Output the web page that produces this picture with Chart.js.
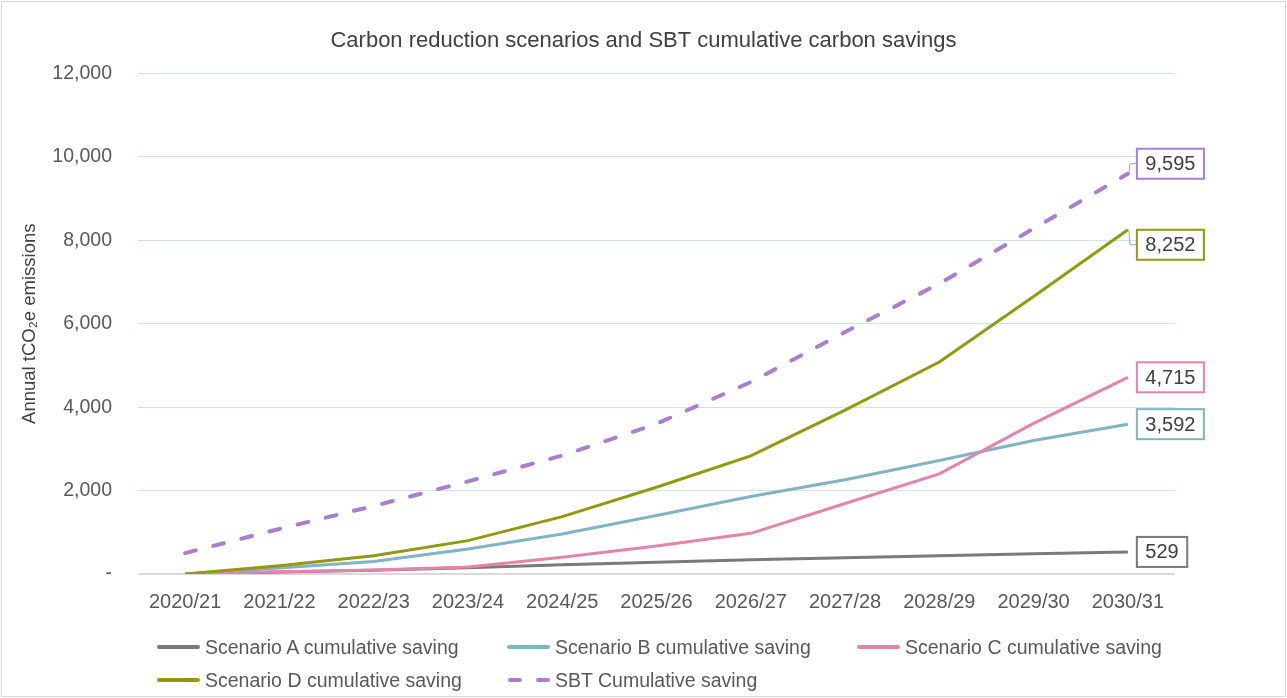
<!DOCTYPE html>
<html>
<head>
<meta charset="utf-8">
<script src="https://cdn.jsdelivr.net/npm/chart.js@4.4.1/dist/chart.umd.min.js"></script>
<style>
  html, body { margin: 0; padding: 0; background: #fff; }
  #wrap { position: relative; width: 1287px; height: 698px; }
  #myChart { position: absolute; left: 0; top: 0; }
  #frame { position: absolute; left: 1px; top: 1px; width: 1283px; height: 694px; border: 1px solid #d9d9d9; pointer-events: none; }
  #legend { position: absolute; left: 0; top: 0; font-family: "Liberation Sans", Arial, sans-serif; font-size: 19.5px; color: #595959; }
  .item { position: absolute; height: 24px; line-height: 24px; white-space: nowrap; }
  .swatch { position: absolute; left: 0; top: 10px; width: 43px; height: 4px; border-radius: 2px; }
  .dash { position: absolute; top: 10px; width: 14px; height: 4px; border-radius: 2px; }
  .txt { position: absolute; left: 48px; top: 0; }
</style>
</head>
<body>
<div id="wrap">
  <canvas id="myChart" width="1287" height="698"></canvas>
  <div id="legend"></div>
  <div id="frame"></div>
</div>
<script>
const years = ["2020/21", "2021/22", "2022/23", "2023/24", "2024/25", "2025/26", "2026/27", "2027/28", "2028/29", "2029/30", "2030/31"];
const scenarioA = [0, 45, 90, 150, 220, 280, 340, 390, 440, 485, 529];
const scenarioB = [0, 145, 300, 600, 960, 1400, 1860, 2260, 2720, 3200, 3592];
const scenarioC = [0, 55, 95, 170, 400, 670, 975, 1690, 2400, 3610, 4715];
const scenarioD = [0, 200, 440, 800, 1375, 2080, 2830, 3930, 5080, 6650, 8252];
const sbtSaving = [500, 1080, 1630, 2220, 2840, 3600, 4600, 5800, 6960, 8280, 9595];
const seriesNames = ["Scenario A cumulative saving", "Scenario B cumulative saving", "Scenario C cumulative saving", "Scenario D cumulative saving", "SBT Cumulative saving"];

const FONT = '"Liberation Sans", Arial, sans-serif';
const colors = ["#7a7a7a", "#80b3c4", "#e584ab", "#8f9a0e", "#a67fcf"];
// vertical shift of the end label boxes (px), with leader line when non-zero
const labelShift = [0, 0, 0, 15, -10];

const endLabels = {
  id: "endLabels",
  afterDatasetsDraw(chart) {
    const ctx = chart.ctx;
    ctx.save();
    ctx.font = "20px " + FONT;
    chart.data.datasets.forEach((ds, i) => {
      const meta = chart.getDatasetMeta(i);
      const pt = meta.data[meta.data.length - 1];
      const value = ds.data[ds.data.length - 1];
      const text = value.toLocaleString("en-US");
      const w = ctx.measureText(text).width + 17;
      const h = 30;
      const bx = pt.x + 9;
      const cy = pt.y + labelShift[i];

      if (labelShift[i] !== 0) {
        ctx.strokeStyle = "#a6a6a6";
        ctx.lineWidth = 1;
        ctx.beginPath();
        ctx.moveTo(pt.x + 1, pt.y);
        ctx.lineTo(pt.x + 2, cy);
        ctx.lineTo(bx, cy);
        ctx.stroke();
      }

      ctx.fillStyle = "#fff";
      ctx.fillRect(bx, cy - h / 2, w, h);
      ctx.strokeStyle = colors[i];
      ctx.lineWidth = 2;
      ctx.strokeRect(bx, cy - h / 2, w, h);

      ctx.fillStyle = "#404040";
      ctx.textAlign = "center";
      ctx.textBaseline = "middle";
      ctx.fillText(text, bx + w / 2, cy + 1);
    });
    ctx.restore();
  },
};

const seriesData = [scenarioA, scenarioB, scenarioC, scenarioD, sbtSaving];

const datasets = seriesData.map((d, i) => ({
  label: seriesNames[i],
  data: d,
  borderColor: colors[i],
  backgroundColor: colors[i],
  borderWidth: i === 4 ? 4 : 3,
  borderDash: i === 4 ? [11, 18] : [],
  borderCapStyle: i === 4 ? "round" : "butt",
  pointRadius: 0,
  tension: 0,
  fill: false,
  order: 4 - i,
}));

const canvas = document.getElementById("myChart");
const chartInstance = new Chart(canvas.getContext("2d"), {
  type: "line",
  data: { labels: years, datasets: datasets },
  plugins: [endLabels],
  options: {
    responsive: false,
    animation: false,
    layout: { padding: { left: 0, right: 0, top: 0, bottom: 84 } },
    plugins: {
      legend: { display: false },
      tooltip: { enabled: false },
      title: {
        display: true,
        text: "Carbon reduction scenarios and SBT cumulative carbon savings",
        color: "#404040",
        font: { family: FONT, size: 22, weight: "normal" },
        padding: { top: 28, bottom: 19 },
      },
    },
    scales: {
      x: {
        offset: true,
        grid: { display: false, drawTicks: false },
        border: { display: false },
        ticks: { color: "#595959", font: { family: FONT, size: 20 }, padding: 16, maxRotation: 0, autoSkip: false },
        afterFit(scale) { scale.height = 40; },
      },
      y: {
        min: 0,
        max: 12000,
        border: { display: false },
        grid: {
          drawTicks: false,
          color: (c) => (c.tick && c.tick.value === 0 ? "#d9d9d9" : "#cfe3ea"),
          lineWidth: (c) => (c.tick && c.tick.value === 0 ? 2 : 1),
        },
        ticks: {
          stepSize: 2000,
          color: "#595959",
          font: { family: FONT, size: 19.5 },
          padding: 26,
          callback: (v) => (v === 0 ? "-" : v.toLocaleString("en-US")),
        },
        title: {
          display: true,
          text: "Annual tCO\u2082e emissions",
          color: "#404040",
          font: { family: FONT, size: 18.5 },
          padding: { top: 19, bottom: 0 },
        },
        afterFit(scale) { scale.width = 138; },
      },
      // empty right-hand margin for the end labels
      yRight: {
        position: "right",
        min: 0,
        max: 12000,
        grid: { display: false, drawTicks: false },
        border: { display: false },
        ticks: { display: false },
        afterFit(scale) { scale.width = 112; },
      },
    },
  },
});

// ===== LEGEND =====
const legendPos = [[157, 635], [507, 635], [857, 635], [157, 668], [507, 668]];
const legendEl = document.getElementById("legend");
seriesNames.forEach((name, i) => {
  const item = document.createElement("div");
  item.className = "item";
  item.style.left = legendPos[i][0] + "px";
  item.style.top = legendPos[i][1] + "px";
  let sample;
  if (i === 4) {
    sample = `<span class="dash" style="left:1px;background:${colors[i]}"></span>` +
             `<span class="dash" style="left:29px;background:${colors[i]}"></span>`;
  } else {
    sample = `<span class="swatch" style="background:${colors[i]}"></span>`;
  }
  item.innerHTML = sample + `<span class="txt">${name}</span>`;
  legendEl.appendChild(item);
});
</script>
</body>
</html>
